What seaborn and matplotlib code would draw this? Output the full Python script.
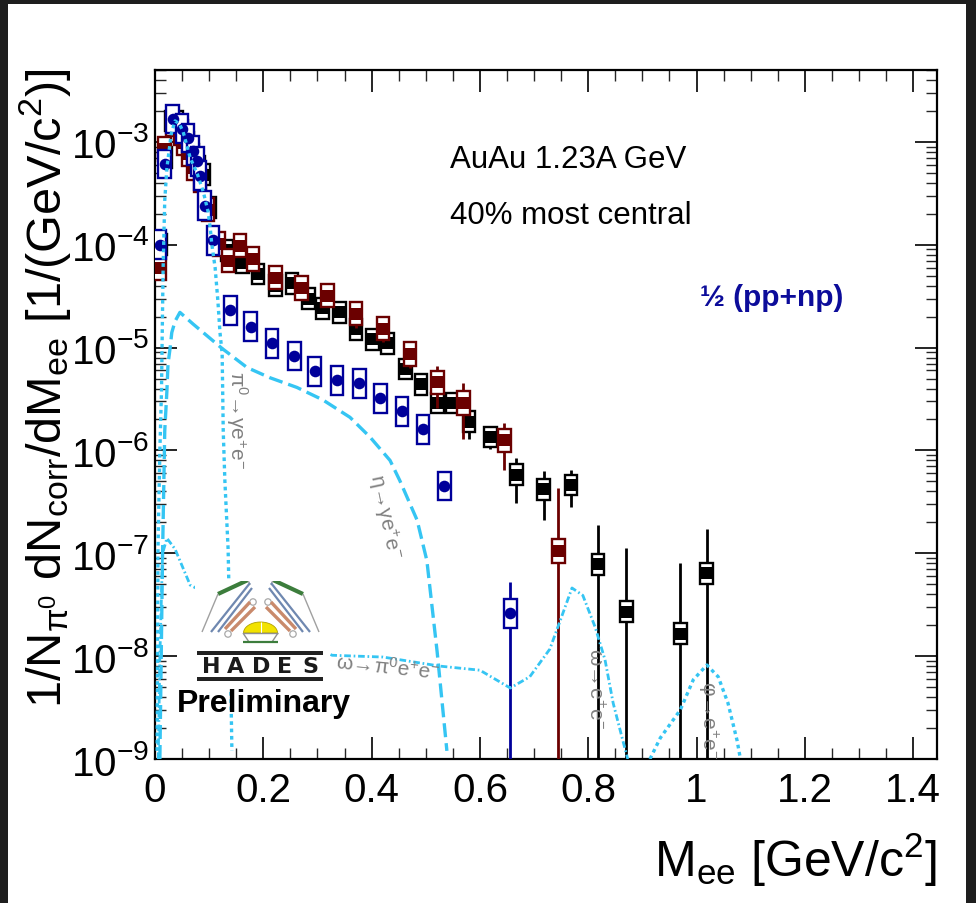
import numpy as np
import pandas as pd
import matplotlib
matplotlib.use("Agg")
import matplotlib.pyplot as plt
import seaborn as sns
from matplotlib.patches import Rectangle, Polygon, Circle
from matplotlib.ticker import LogLocator, MultipleLocator, NullFormatter, LogFormatterMathtext, FuncFormatter

# ---------------- data ----------------
# AuAu 40% most central (black squares)
black_m = [0.010, 0.020, 0.030, 0.040, 0.050, 0.060, 0.070, 0.080, 0.090, 0.100,
           0.133, 0.161, 0.190, 0.222, 0.253, 0.283, 0.310, 0.340, 0.371, 0.401,
           0.430, 0.462, 0.491, 0.521, 0.550, 0.580, 0.619, 0.667, 0.718, 0.768,
           0.818, 0.870, 0.970, 1.019]
black_v = [1.0e-4, 7.0e-4, 1.6e-3, 1.6e-3, 1.3e-3, 1.0e-3, 7.5e-4, 5.8e-4, 4.8e-4, 2.3e-4,
           8.8e-5, 6.7e-5, 5.2e-5, 4.0e-5, 4.2e-5, 3.0e-5, 2.4e-5, 2.2e-5, 1.5e-5, 1.2e-5,
           1.1e-5, 6.2e-6, 4.4e-6, 2.9e-6, 2.9e-6, 1.9e-6, 1.35e-6, 5.8e-7, 4.2e-7, 4.6e-7,
           7.8e-8, 2.7e-8, 1.66e-8, 6.4e-8]
black_err = [4e-6, 2e-5, 3e-5, 3e-5, 2.5e-5, 2e-5, 1.5e-5, 1.2e-5, 1e-5, 6e-6,
             3e-6, 2.5e-6, 2e-6, 1.6e-6, 1.7e-6, 1.3e-6, 1.1e-6, 1.1e-6, 8e-7, 7e-7,
             7e-7, 5e-7, 9e-7, 6e-7, 4e-7, 6e-7, 3.2e-7, 2.7e-7, 2.1e-7, 1.8e-7,
             1.1e-7, 8.5e-8, 6.3e-8, 1.1e-7]

# second data set (dark red squares)
red_m = [0.009, 0.018, 0.033, 0.046, 0.052, 0.061, 0.070, 0.083, 0.098, 0.118,
         0.135, 0.157, 0.181, 0.222, 0.271, 0.319, 0.371, 0.421, 0.471, 0.521,
         0.569, 0.645, 0.745]
red_v = [5.9e-5, 8.5e-4, 1.49e-3, 1.22e-3, 9.8e-4, 7.6e-4, 5.6e-4, 4.2e-4, 2.2e-4, 1.02e-4,
         7.0e-5, 9.8e-5, 7.3e-5, 4.8e-5, 3.8e-5, 3.2e-5, 2.14e-5, 1.53e-5, 8.7e-6, 4.6e-6,
         2.9e-6, 1.25e-6, 1.05e-7]
red_err = [3e-6, 2e-5, 3e-5, 3e-5, 2.5e-5, 2e-5, 1.5e-5, 1.2e-5, 7e-6, 4e-6,
           3e-6, 4e-6, 3e-6, 2.5e-6, 2e-6, 2e-6, 6e-6, 4e-6, 2.3e-6, 2.0e-6,
           1.6e-6, 6e-7, 3.3e-7]

# 1/2 (pp+np) (blue circles)
blue_m = [0.009, 0.018, 0.033, 0.050, 0.061, 0.070, 0.078, 0.083, 0.092, 0.107,
          0.139, 0.177, 0.216, 0.257, 0.295, 0.336, 0.377, 0.416, 0.456, 0.495,
          0.534, 0.656]
blue_v = [1.0e-4, 6.1e-4, 1.67e-3, 1.34e-3, 1.09e-3, 8.2e-4, 6.5e-4, 4.7e-4, 2.4e-4, 1.1e-4,
          2.3e-5, 1.6e-5, 1.1e-5, 8.3e-6, 5.9e-6, 4.8e-6, 4.5e-6, 3.2e-6, 2.4e-6, 1.6e-6,
          4.5e-7, 2.6e-8]
blue_err = [3e-6, 1.5e-5, 3e-5, 3e-5, 2.5e-5, 2e-5, 1.5e-5, 1.2e-5, 7e-6, 3e-6,
            8e-7, 6e-7, 4e-7, 3e-7, 2.5e-7, 2e-7, 2e-7, 1.5e-7, 1.2e-7, 1e-7,
            5e-8, 2.7e-8]

# systematic uncertainty (relative box factor)
black_sys, red_sys, blue_sys = 1.26, 1.30, 1.38

# cocktail curves
pi0_m = [0.004, 0.0055, 0.009, 0.012, 0.013, 0.015, 0.018, 0.022, 0.030, 0.037, 0.045,
         0.052, 0.065, 0.078, 0.089, 0.098, 0.102, 0.105, 0.111, 0.116, 0.120, 0.124,
         0.126, 0.129, 0.135, 0.139, 0.142]
pi0_v = [1.2e-9, 1.1e-7, 1e-6, 3.8e-6, 1e-5, 6e-5, 2.7e-4, 5.6e-4, 1.2e-3, 1.6e-3, 1.5e-3,
         1.25e-3, 7e-4, 4.9e-4, 3.3e-4, 2.1e-4, 1.45e-4, 1.0e-4, 6e-5, 2.9e-5, 1.4e-5, 8.7e-6,
         1.55e-6, 5.1e-7, 1.1e-7, 1.1e-8, 1.2e-9]
eta_m = [0.009, 0.014, 0.018, 0.022, 0.024, 0.028, 0.031, 0.037, 0.046, 0.070, 0.124, 0.170,
         0.212, 0.262, 0.310, 0.360, 0.397, 0.434, 0.452, 0.484, 0.502, 0.521, 0.539]
eta_v = [1e-9, 1e-7, 1.55e-6, 3.8e-6, 6.9e-6, 1.0e-5, 1.4e-5, 1.8e-5, 2.2e-5, 1.7e-5, 9.8e-6,
         6.4e-6, 5.1e-6, 4.1e-6, 3.1e-6, 2.1e-6, 1.35e-6, 8.0e-7, 5.1e-7, 2.1e-7, 8.5e-8,
         1.1e-8, 1.2e-9]
omega_m = [0.006, 0.009, 0.014, 0.022, 0.037, 0.065, 0.327, 0.421, 0.526, 0.600, 0.656,
           0.692, 0.729, 0.748, 0.770, 0.790, 0.813, 0.831, 0.846, 0.864, 0.873]
omega_v = [1e-9, 1e-8, 1.0e-7, 1.4e-7, 1.1e-7, 4.9e-8, 1.02e-8, 9.8e-9, 8.0e-9, 7.3e-9, 4.9e-9,
           6.3e-9, 1.17e-8, 2.2e-8, 4.6e-8, 3.9e-8, 1.9e-8, 9.2e-9, 3.5e-9, 1.5e-9, 1e-9]
phi_m = [0.914, 0.933, 0.970, 0.994, 1.019, 1.040, 1.058, 1.075, 1.081]
phi_v = [1e-9, 1.6e-9, 3.0e-9, 5.9e-9, 8.2e-9, 6.3e-9, 3.5e-9, 1.5e-9, 1e-9]

x_ticks = [0, 0.2, 0.4, 0.6, 0.8, 1.0, 1.2, 1.4]

# ---------------- style ----------------
sns.set_theme(style="white")
plt.rcParams["font.family"] = ["Liberation Sans", "DejaVu Sans"]
plt.rcParams["mathtext.fontset"] = "custom"
plt.rcParams["mathtext.rm"] = "Liberation Sans"
plt.rcParams["mathtext.it"] = "Liberation Sans"
plt.rcParams["mathtext.bf"] = "Liberation Sans:bold"
plt.rcParams["mathtext.sf"] = "Liberation Sans"
plt.rcParams["mathtext.default"] = "regular"

W, H = 976, 904
fig = plt.figure(figsize=(W / 100, H / 100), dpi=100)
fig.patch.set_facecolor("#1e1e1e")
fig.patches.append(Rectangle((8 / W, 0), (966 - 8) / W, 1 - 5 / H, transform=fig.transFigure,
                             facecolor="white", edgecolor="none", zorder=-10))

ax = fig.add_axes([155 / W, 1 - 760 / H, (937 - 155) / W, (760 - 71) / H])
ax.set_yscale("log")
ax.set_xlim(0, 1.444)
ax.set_ylim(1e-9, 5e-3)
ax.set_facecolor("white")

CYAN = "#35c5f3"
BLACK = "#000000"
RED = "#6b0000"
BLUE = "#00009a"

def draw_series(m, v, err, fac, color, marker, z, size):
    m = np.asarray(m); v = np.asarray(v); err = np.asarray(err)
    ax.errorbar(m, v, yerr=err, fmt="none", ecolor=color, elinewidth=2.0, capsize=0, zorder=z)
    hw = 0.0118
    for xi, yi in zip(m, v):
        ax.add_patch(Rectangle((xi - hw, yi / fac), 2 * hw, yi * fac - yi / fac,
                               facecolor="white", edgecolor=color, lw=1.7, zorder=z + 0.1))
    df = pd.DataFrame({"m": m, "v": v})
    sns.scatterplot(data=df, x="m", y="v", ax=ax, marker=marker, s=size, color=color,
                    edgecolor=color, linewidth=0, zorder=z + 0.2, legend=False)

draw_series(black_m, black_v, black_err, black_sys, BLACK, "s", 3, 78)
draw_series(red_m, red_v, red_err, red_sys, RED, "s", 4, 78)
draw_series(blue_m, blue_v, blue_err, blue_sys, BLUE, "o", 5, 70)

def curve(m, v, ls, lw):
    sns.lineplot(x=m, y=v, ax=ax, color=CYAN, lw=lw, linestyle=ls, sort=False,
                 estimator=None, zorder=8)

curve(pi0_m, pi0_v, (0, (1.1, 1.1)), 2.4)
curve(eta_m, eta_v, (0, (4.2, 1.8)), 2.4)
curve(omega_m, omega_v, (0, (2.4, 1.0, 0.6, 1.0)), 2.0)
curve(phi_m, phi_v, (0, (1.1, 1.1)), 2.4)

ax.set_xlabel("")
ax.set_ylabel("")

# ---------------- axes styling ----------------
for s in ax.spines.values():
    s.set_color("black")
    s.set_linewidth(1.6)
ax.xaxis.set_major_locator(MultipleLocator(0.2))
ax.xaxis.set_minor_locator(MultipleLocator(0.05))
ax.xaxis.set_major_formatter(FuncFormatter(lambda v, p: f"{v:g}"))
ax.set_xticks(x_ticks)
ax.yaxis.set_major_locator(LogLocator(base=10, numticks=20))
ax.yaxis.set_minor_locator(LogLocator(base=10, subs=np.arange(2, 10), numticks=20))
ax.yaxis.set_major_formatter(LogFormatterMathtext())
ax.yaxis.set_minor_formatter(NullFormatter())
ax.tick_params(which="major", direction="in", length=16, width=1.2, top=True, right=True,
               bottom=True, left=True, labelsize=29, colors="black")
ax.tick_params(which="minor", direction="in", length=8, width=1.0, top=True, right=True,
               bottom=True, left=True)
ax.tick_params(axis="x", which="major", pad=9)
ax.tick_params(axis="y", which="major", pad=4)
ax.set_xlim(0, 1.444)
ax.set_ylim(1e-9, 5e-3)

# ---------------- texts ----------------
fig.text(45 / W, 1 - 388 / H, r"$1/N_{\pi^{0}}\ dN_{corr}/dM_{ee}\ [1/(GeV/c^{2})]$",
         rotation=90, ha="center", va="center", fontsize=35, color="black")
fig.text(937 / W, 1 - 860 / H, r"$M_{ee}\ [GeV/c^{2}]$", ha="right", va="center",
         fontsize=36, color="black")
fig.text(450 / W, 1 - 160 / H, "AuAu 1.23A GeV", ha="left", va="center", fontsize=22.5, color="black")
fig.text(450 / W, 1 - 216 / H, "40% most central", ha="left", va="center", fontsize=22.5, color="black")
fig.text(700 / W, 1 - 298 / H, "½ (pp+np)", ha="left", va="center", fontsize=21.5,
         fontweight="bold", color="#0c0c9a")
fig.text(177 / W, 1 - 704 / H, "Preliminary", ha="left", va="center", fontsize=23,
         fontweight="bold", color="black", zorder=20)

GRAY = "#808080"
fig.text(237 / W, 1 - 420 / H, r"$\pi^{0}\!\rightarrow\!\gamma e^{+}e^{-}$", rotation=-90,
         ha="center", va="center", fontsize=15, color=GRAY)
fig.text(385 / W, 1 - 517 / H, r"$\eta\!\rightarrow\!\gamma e^{+}e^{-}$", rotation=-78,
         ha="center", va="center", fontsize=15, color=GRAY)
fig.text(388 / W, 1 - 667 / H, r"$\omega\!\rightarrow\!\pi^{0}e^{+}e^{-}$", rotation=-6,
         ha="center", va="center", fontsize=15, color=GRAY)
fig.text(595 / W, 1 - 688 / H, r"$\omega\!\rightarrow\!e^{+}e^{-}$", rotation=-90,
         ha="center", va="center", fontsize=15, color=GRAY)
fig.text(708 / W, 1 - 720 / H, r"$\varphi\!\rightarrow\!e^{+}e^{-}$", rotation=-90,
         ha="center", va="center", fontsize=15, color=GRAY)

# ---------------- HADES logo (simplified drawing) ----------------
lg = fig.add_axes([195 / W, 1 - 690 / H, 135 / W, 108 / H])
lg.set_xlim(195, 330)
lg.set_ylim(690, 582)
lg.set_xticks([]); lg.set_yticks([])
for s in lg.spines.values():
    s.set_visible(False)
lg.set_facecolor("white")
cx = 260.5
def mirror(p):
    return [(2 * cx - x, y) for x, y in p]
def seg(p, c, lw):
    xs, ys = zip(*p)
    lg.plot(xs, ys, color=c, lw=lw, solid_capstyle="butt")
for side in (lambda p: p, mirror):
    seg(side([(218, 595), (248, 581)]), "#3c7d3c", 3.0)
    seg(side([(218, 595), (202, 633)]), "#a0a0a0", 1.0)
    seg(side([(248, 581), (250, 586)]), "#a0a0a0", 1.0)
    seg(side([(250, 584), (211, 633)]), "#6f88b0", 1.6)
    seg(side([(252, 589), (218, 633)]), "#6f88b0", 1.6)
    seg(side([(250, 603), (225, 630)]), "#c98a6c", 2.4)
    seg(side([(255, 608), (231, 632)]), "#c98a6c", 2.4)
    for (px, py) in side([(228, 635), (253, 603)]):
        lg.add_patch(Circle((px, py), 3.2, facecolor="white", edgecolor="#a8a8a8", lw=0.9))
th = np.linspace(0, np.pi, 30)
lg.add_patch(Polygon(np.column_stack([cx + 17 * np.cos(th), 634 - 11 * np.sin(th)]),
                     closed=True, facecolor="#f2e200", edgecolor="#b0a000", lw=0.6))
seg([(cx, 623), (cx, 634)], "white", 0.8)
seg([(243, 634), (278, 634)], "#909090", 1.0)
seg([(243, 634), (249, 643)], "#909090", 1.0)
seg([(278, 634), (272, 643)], "#909090", 1.0)
seg([(243, 643), (278, 643)], "#3c7d3c", 1.6)
lg.add_patch(Rectangle((197, 652), 126, 4, facecolor="#222222", edgecolor="none"))
lg.add_patch(Rectangle((197, 678), 126, 4, facecolor="#222222", edgecolor="none"))
for ch, px in zip("HADES", [211, 236, 261, 285, 310]):
    lg.text(px, 667.5, ch, ha="center", va="center", fontsize=16, fontweight="bold",
            family="DejaVu Sans", color="#1a1a1a")

fig.savefig("out.png", dpi=100, facecolor=fig.get_facecolor())
